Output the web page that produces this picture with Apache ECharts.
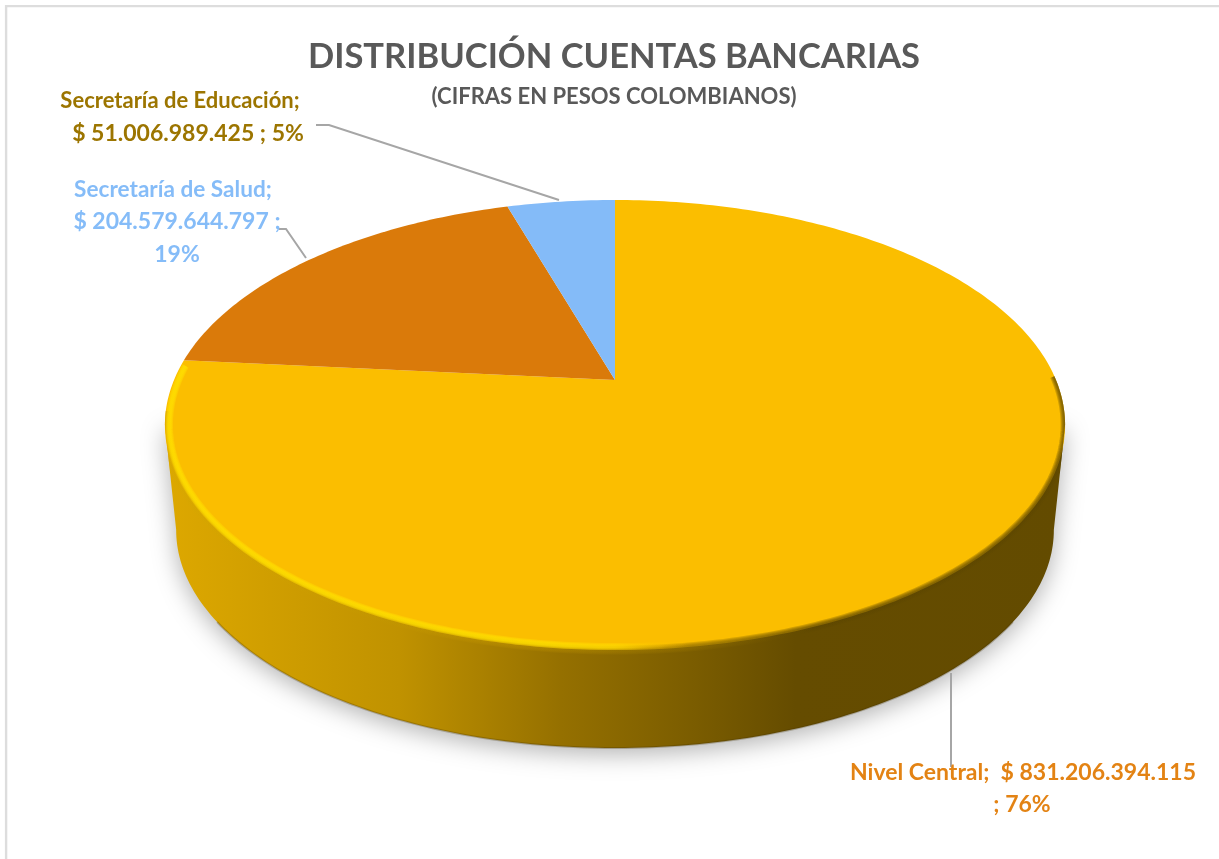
<!DOCTYPE html>
<html><head><meta charset="utf-8">
<style>html,body{margin:0;padding:0;background:#fff}#c{width:1219px;height:859px}</style>
<script src="https://cdn.jsdelivr.net/npm/echarts@6/dist/echarts.min.js"></script>
</head><body><div id="c"></div>
<script>
const categories = ['Nivel Central', 'Secretaría de Salud', 'Secretaría de Educación'];
const values = [831206394115, 204579644797, 51006989425];
const percentLabels = ['76%', '19%', '5%'];
const sliceColors = ['#FBBE00', '#DA7A0A', '#84BBF8'];
const labelColors = ['#E38314', '#85BCF8', '#9C7500'];
const labelTemplates = [['{n};  {v}', '; {p}'], ['{n};', '{v} ;', '{p}'], ['{n};', '{v} ; {p}']];
const labelAnchors = [[[1023, 773], [1022, 805]], [[173, 190], [177, 222], [177, 255]], [[180, 101], [188, 134]]];
const labelSizes = [[23, 23], [22.6, 23, 23], [22, 23]];
const leaderLines = [[[951, 673], [951, 767]], [[279, 229], [286, 229], [306, 258]], [[316, 125], [329, 125], [559, 200]]];

const money = v => '$ ' + String(v).replace(/\B(?=(\d{3})+$)/g, '.');
const total = values.reduce((a, b) => a + b, 0);

// Perspective view of the round top face
const CX = 615, CY = 380, R = 441, A = 216, K = 0.2;
function face(t) { // t: radians clockwise from the top
  const x = Math.sin(t), v = -Math.cos(t), d = 1 - K * v;
  return [CX + R * x / d, CY + A * v / d];
}
function lower(t) { // bottom rim of the disc
  const p = face(t);
  return [CX + (p[0] - CX) * 0.975, 530 + (p[1] - 425) * 0.969];
}
function inner(t) { // ring just inside the top edge
  const p = face(t);
  return [CX + (p[0] - CX) * 0.99, 425 + (p[1] - 425) * 0.985];
}
function arc(fn, a, b, n) {
  const out = [];
  for (let i = 0; i <= n; i++) out.push(fn(a + (b - a) * i / n));
  return out;
}
const rad = d => d * Math.PI / 180;
const lin = (stops) => ({type: 'linear', x: 165, y: 0, x2: 1066, y2: 0, global: true,
  colorStops: stops.map(s => ({offset: s[0], color: s[1]}))});
function soft(points, stroke, widths, opacity) {
  return widths.map(w => ({type: 'polyline', shape: {points: points},
    style: {fill: null, stroke: stroke, lineWidth: w, opacity: opacity, lineCap: 'butt', lineJoin: 'round'}}));
}
const frontArc = () => arc(lower, rad(101.5), rad(258.5), 160);
const hull = () => arc(face, rad(-101.5), rad(101.5), 200).concat(frontArc());

function renderBody() {
  const front = frontArc();
  const poly = [face(rad(101.5))].concat(front, [face(rad(258.5))]);
  const fill = lin([[0, '#DDA800'], [0.26, '#C09200'], [0.44, '#957000'], [0.59, '#7A5C00'], [0.7, '#654C00'], [1, '#634B00']]);
  return {type: 'group', children: [
    {type: 'polygon', shape: {points: poly}, style: {fill: fill, shadowBlur: 24, shadowColor: 'rgba(0,0,0,0.30)', shadowOffsetY: 6}},
    {type: 'polyline', shape: {points: arc(lower, rad(125), rad(235), 100)}, style: {fill: null, stroke: 'rgba(70,50,0,0.28)', lineWidth: 2}}
  ]};
}

function renderSlice(params, api) {
  const i = params.dataIndex;
  let before = 0;
  for (let k = 0; k < i; k++) before += values[k];
  const a = before / total * Math.PI * 2;
  const b = a + api.value(1) / total * Math.PI * 2;
  const pts = [[CX, CY]].concat(arc(face, a, b, Math.max(8, Math.round((b - a) * 60))));
  let kids = [{type: 'polygon', shape: {points: pts}, style: {fill: sliceColors[i]}}];
  if (i === 0) {
    const edge = arc(face, rad(89), rad(262), 200);
    const ring = arc(inner, rad(165), rad(274), 150);
    const bevel = soft(edge, lin([[0, '#D9A900'], [0.4, '#B58A00'], [0.58, '#8F6D00'], [0.72, '#5E4700'], [1, '#5E4700']]), [9, 7, 5, 3], 0.28)
      .concat(soft(ring, lin([[0, '#FFE000'], [0.42, '#FFE000'], [0.5, '#FFD800'], [0.58, 'rgba(251,190,0,0)'], [1, 'rgba(251,190,0,0)']]), [7, 5, 3], 0.42));
    kids.push({type: 'group', children: bevel, clipPath: {type: 'polygon', shape: {points: hull()}}});
  }
  return {type: 'group', children: kids};
}

function renderLabel(params, api) {
  const i = params.dataIndex;
  const kids = [{type: 'polyline', shape: {points: leaderLines[i]}, style: {fill: null, stroke: '#A6A6A6', lineWidth: 2}}];
  labelTemplates[i].forEach((tpl, k) => {
    const text = tpl.replace('{n}', categories[i]).replace('{v}', money(values[i])).replace('{p}', percentLabels[i]);
    kids.push({type: 'text', x: labelAnchors[i][k][0], y: labelAnchors[i][k][1], style: {text: text, fill: labelColors[i],
      font: 'bold ' + labelSizes[i][k] + 'px Lato', align: 'center', verticalAlign: 'middle'}});
  });
  return {type: 'group', children: kids};
}

const chart = echarts.init(document.getElementById('c'), null, {renderer: 'canvas'});
const rows = categories.map((c, i) => ({name: c, value: [i, values[i], percentLabels[i]]}));
chart.setOption({
  animation: false,
  backgroundColor: '#fff',
  title: {text: 'DISTRIBUCIÓN CUENTAS BANCARIAS', subtext: '(CIFRAS EN PESOS COLOMBIANOS)',
    left: 609, top: 34, textAlign: 'center', itemGap: 12,
    textStyle: {fontFamily: 'Lato', fontWeight: 'bold', fontSize: 34.5, color: '#595959'},
    subtextStyle: {fontFamily: 'Lato', fontWeight: 'bold', fontSize: 22, color: '#595959'}},
  graphic: [{type: 'polyline', silent: true, shape: {points: [[6.1, 859], [6.1, 6.1], [1219, 6.1]]}, style: {fill: null, stroke: '#DDDDDD', lineWidth: 2.4}}],
  series: [
    {type: 'custom', name: 'Cuerpo', coordinateSystem: 'none', silent: true, z: 1, data: [[0]], renderItem: renderBody},
    {type: 'custom', name: 'Cuentas', coordinateSystem: 'none', silent: true, z: 2, data: rows, renderItem: renderSlice},
    {type: 'custom', name: 'Etiquetas', coordinateSystem: 'none', silent: true, z: 3, data: rows, renderItem: renderLabel}
  ]
});
</script></body></html>
